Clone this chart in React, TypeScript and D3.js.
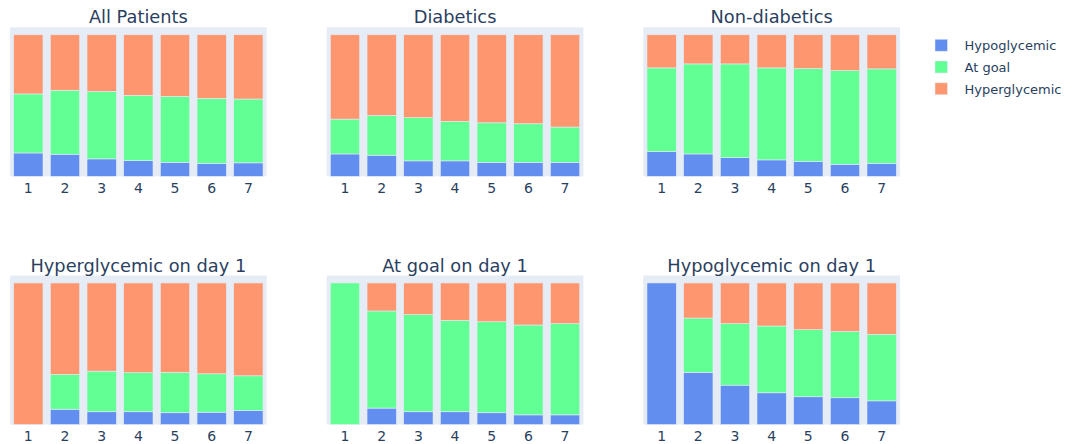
import React from "react";
import * as d3 from "d3";

// Share of patients in each glycemic state, by hospital day
const days = ["1", "2", "3", "4", "5", "6", "7"];
const seriesNames = ["Hypoglycemic", "At goal", "Hyperglycemic"];
const seriesColors = ["#628EF0", "#62FF95", "#FE976F"];

const panelTitles = [
  "All Patients",
  "Diabetics",
  "Non-diabetics",
  "Hyperglycemic on day 1",
  "At goal on day 1",
  "Hypoglycemic on day 1",
];

const allHypo = [0.165, 0.156, 0.123, 0.111, 0.099, 0.092, 0.095];
const allGoal = [0.417, 0.452, 0.477, 0.461, 0.466, 0.459, 0.451];
const allHyper = [0.418, 0.392, 0.4, 0.428, 0.435, 0.449, 0.454];

const diabHypo = [0.158, 0.149, 0.109, 0.109, 0.099, 0.099, 0.099];
const diabGoal = [0.246, 0.281, 0.305, 0.279, 0.279, 0.272, 0.249];
const diabHyper = [0.596, 0.57, 0.586, 0.612, 0.622, 0.629, 0.652];

const nonDiabHypo = [0.175, 0.158, 0.132, 0.116, 0.106, 0.085, 0.092];
const nonDiabGoal = [0.591, 0.636, 0.662, 0.65, 0.655, 0.662, 0.667];
const nonDiabHyper = [0.234, 0.206, 0.206, 0.234, 0.239, 0.253, 0.241];

const hyperD1Hypo = [0, 0.108, 0.09, 0.09, 0.083, 0.087, 0.099];
const hyperD1Goal = [0, 0.246, 0.287, 0.276, 0.285, 0.271, 0.245];
const hyperD1Hyper = [1, 0.646, 0.623, 0.634, 0.632, 0.642, 0.656];

const goalD1Hypo = [0, 0.116, 0.09, 0.09, 0.083, 0.068, 0.068];
const goalD1Goal = [1, 0.686, 0.686, 0.646, 0.643, 0.635, 0.644];
const goalD1Hyper = [0, 0.198, 0.224, 0.264, 0.274, 0.297, 0.288];

const hypoD1Hypo = [1, 0.368, 0.278, 0.224, 0.196, 0.189, 0.167];
const hypoD1Goal = [0, 0.384, 0.434, 0.472, 0.474, 0.469, 0.47];
const hypoD1Hyper = [0, 0.248, 0.288, 0.304, 0.33, 0.342, 0.363];

const panelSeries = [
  [allHypo, allGoal, allHyper],
  [diabHypo, diabGoal, diabHyper],
  [nonDiabHypo, nonDiabGoal, nonDiabHyper],
  [hyperD1Hypo, hyperD1Goal, hyperD1Hyper],
  [goalD1Hypo, goalD1Goal, goalD1Hyper],
  [hypoD1Hypo, hypoD1Goal, hypoD1Hyper],
];

const W = 1073;
const H = 444;
const FONT = "'DejaVu Sans', Verdana, sans-serif";
const TEXT = "#2a3f5f";
const PLOT_BG = "#E5ECF6";

const colX = [10, 326.7, 643.3];
const colW = 256.7;
const rowY = [27.3, 275.5];
const rowH = 149;

function Panel({ index }: { index: number }) {
  const col = index % 3;
  const row = Math.floor(index / 3);
  const x0 = colX[col];
  const y0 = rowY[row];
  const series = panelSeries[index];

  const x = d3.scaleBand<string>().domain(days).range([x0, x0 + colW]).paddingInner(0.2).paddingOuter(0.1);
  const y = d3.scaleLinear().domain([0, 1.0526]).range([y0 + rowH, y0]);

  const rows = days.map((d, i) => {
    const r: Record<string, number | string> = { day: d };
    seriesNames.forEach((n, k) => (r[n] = series[k][i]));
    return r;
  });
  const stacked = d3.stack<any>().keys(seriesNames)(rows);

  return (
    <g>
      <rect x={x0} y={y0} width={colW} height={rowH} fill={PLOT_BG} />
      {stacked.map((layer, k) => (
        <g key={k}>
          {layer.map((seg, i) =>
            seg[1] - seg[0] > 0 ? (
              <rect
                key={i}
                x={x(days[i])}
                y={y(seg[1])}
                width={x.bandwidth()}
                height={y(seg[0]) - y(seg[1])}
                fill={seriesColors[k]}
                stroke={PLOT_BG}
                strokeWidth={0.6}
              />
            ) : null
          )}
        </g>
      ))}
      {days.map((d) => (
        <text
          key={d}
          x={(x(d) as number) + x.bandwidth() / 2}
          y={y0 + rowH + 16.5}
          textAnchor="middle"
          fontSize={14}
          fill={TEXT}
          fontFamily={FONT}
        >
          {d}
        </text>
      ))}
      <text
        x={x0 + colW / 2}
        y={y0 - 4}
        textAnchor="middle"
        fontSize={17.8}
        fill={TEXT}
        fontFamily={FONT}
      >
        {panelTitles[index]}
      </text>
    </g>
  );
}

export default function App() {
  return (
    <svg
      width={W}
      height={H}
      style={{ position: "absolute", left: 0, top: 0, background: "#fff" }}
    >
      {panelTitles.map((_, i) => (
        <Panel key={i} index={i} />
      ))}
      <g>
        {seriesNames.map((n, k) => (
          <g key={n} transform={`translate(0, ${45.2 + k * 21.8})`}>
            <rect x={935} y={-6} width={12.5} height={12} fill={seriesColors[k]} stroke={PLOT_BG} strokeWidth={0.6} />
            <text x={964.5} y={5.2} fontSize={13} fill={TEXT} fontFamily={FONT}>
              {n}
            </text>
          </g>
        ))}
      </g>
    </svg>
  );
}
